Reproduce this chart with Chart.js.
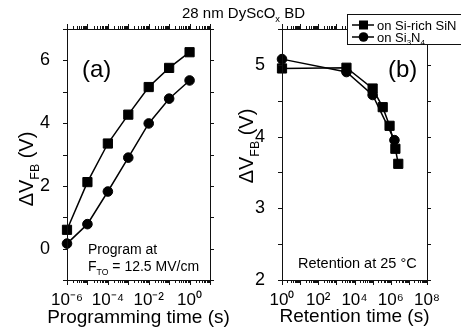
<!DOCTYPE html>
<html><head><meta charset="utf-8">
<script src="https://cdn.jsdelivr.net/npm/chart.js@4.4.1/dist/chart.umd.min.js"></script>
<style>
html,body{margin:0;padding:0;background:#fff;}
#wrap{position:relative;width:461px;height:331px;overflow:hidden;background:#fff;}
canvas{position:absolute;left:0;top:0;}
</style></head>
<body><div id="wrap"><canvas id="cA" width="461" height="331"></canvas><canvas id="cB" width="461" height="331"></canvas></div>
<script>
// ---- data ----
const progTime      = [1e-6, 1e-5, 1e-4, 1e-3, 1e-2, 1e-1, 1];
const progSiRich    = [0.60, 2.12, 3.35, 4.27, 5.15, 5.76, 6.26];
const progSi3N4     = [0.16, 0.78, 1.82, 2.90, 3.99, 4.78, 5.36];
const retTimeSiRich = [1, 3600, 1e5, 3.6e5, 8.6e5, 1.8e6, 2.6e6];
const retSiRich     = [4.95, 4.96, 4.67, 4.41, 4.15, 3.83, 3.62];
const retTimeSi3N4  = [1, 3600, 1e5, 1.6e6];
const retSi3N4      = [5.08, 4.90, 4.58, 3.95];
const seriesNames   = ['on Si-rich SiN', 'on Si3N4'];
const progXLabelExps = [-6, -4, -2, 0];
const retXLabelExps  = [0, 2, 4, 6, 8];
const progYLabels    = [0, 2, 4, 6];
const retYLabels     = [2, 3, 4, 5];

const FONT = '"Liberation Sans", Arial, Helvetica, sans-serif';
Chart.defaults.font.family = FONT;
Chart.defaults.color = '#000';
Chart.defaults.animation = false;

const SUP = {'-':'\u207B','0':'\u2070','1':'\u00B9','2':'\u00B2','3':'\u00B3','4':'\u2074','5':'\u2075','6':'\u2076','7':'\u2077','8':'\u2078','9':'\u2079'};
const pow10 = e => '10' + String(e).split('').map(c => SUP[c]).join('');
function expOf(v){ const e = Math.log10(v); const r = Math.round(e); return Math.abs(e - r) < 1e-6 ? r : null; }

function drawRich(ctx, parts, x, y, size, align){
  let w = 0;
  for (const p of parts){ ctx.font = (p.sub ? size*0.62 : size) + 'px ' + FONT; w += ctx.measureText(p.t).width; }
  let cx = align === 'center' ? x - w/2 : x;
  ctx.textAlign = 'left'; ctx.textBaseline = 'alphabetic';
  for (const p of parts){
    ctx.font = (p.sub ? size*0.62 : size) + 'px ' + FONT;
    ctx.fillText(p.t, cx, y + (p.sub ? size*0.28 : 0));
    cx += ctx.measureText(p.t).width;
  }
}

const framePlugin = {
  id: 'frame',
  afterDatasetsDraw(chart, args, o){
    const ctx = chart.ctx, a = chart.chartArea, xs = chart.scales.x, ys = chart.scales.y;
    ctx.save();
    ctx.strokeStyle = '#111'; ctx.lineWidth = 1;
    ctx.strokeRect(Math.round(a.left)+0.5, Math.round(a.top)+0.5, Math.round(a.right-a.left), Math.round(a.bottom-a.top));
    ctx.beginPath();
    for (let e = o.xMin; e <= o.xMax; e++){
      for (let k = 1; k <= 9; k++){
        if (e === o.xMax && k > 1) break;
        const v = k * Math.pow(10, e);
        const px = Math.round(xs.getPixelForValue(v)) + 0.5;
        const len = k === 1 ? 5 : 3;
        ctx.moveTo(px, a.bottom); ctx.lineTo(px, a.bottom + len);
        ctx.moveTo(px, a.top); ctx.lineTo(px, a.top - len);
      }
    }
    for (let v = o.yMin; v <= o.yMax + 1e-9; v += o.yStep){
      const py = Math.round(ys.getPixelForValue(v)) + 0.5;
      ctx.moveTo(a.left, py); ctx.lineTo(a.left - 4, py);
      ctx.moveTo(a.right, py); ctx.lineTo(a.right + 4, py);
    }
    ctx.stroke();
    ctx.restore();
  }
};

function ds(label, xs, ys, style, r){
  return { label, data: xs.map((t,i)=>({x:t, y:ys[i]})), pointStyle: style, pointRadius: r,
    borderColor:'#000', backgroundColor:'#000', pointBackgroundColor:'#000', pointBorderColor:'#000',
    pointBorderWidth:1, borderWidth:1.5, tension:0, clip:false };
}

function axisY(min, max, step, labels, width){
  return { min, max, grid:{display:false}, border:{display:false},
    ticks:{stepSize:step, padding:9, font:{size:18}, autoSkip:false,
      callback: v => labels.some(l => Math.abs(l - v) < 1e-9) ? String(v) : ''},
    afterFit: s => { s.width = width; } };
}
function axisX(min, max, labelExps){
  return { type:'logarithmic', min, max, grid:{display:false}, border:{display:false},
    ticks:{autoSkip:false, maxRotation:0, minRotation:0, padding:2, font:{size:17},
      callback: v => { const e = expOf(v); return (e !== null && labelExps.includes(e)) ? pow10(e) : ''; }},
    afterFit: s => { s.height = 51; } };
}

// ---- left panel (a) ----
new Chart(document.getElementById('cA'), {
  type:'line',
  data:{ datasets:[ ds(seriesNames[0], progTime, progSiRich, 'rect', 6.5), ds(seriesNames[1], progTime, progSi3N4, 'circle', 4.8) ] },
  options:{ responsive:false, animation:false,
    layout:{padding:{left:0, top:29, right:251, bottom:0}},
    plugins:{ legend:{display:false}, tooltip:{enabled:false},
      frame:{xMin:-6, xMax:1, yMin:-1, yMax:7, yStep:1} },
    scales:{ x: axisX(1e-6, 10, progXLabelExps), y: axisY(-1, 7, 1, progYLabels, 67) } },
  plugins:[framePlugin, {
    id:'annA',
    afterDraw(chart){
      const ctx = chart.ctx; ctx.save(); ctx.fillStyle = '#000';
      drawRich(ctx, [{t:'(a)'}], 82, 77, 24, 'left');
      drawRich(ctx, [{t:'Program at'}], 88, 254, 14, 'left');
      drawRich(ctx, [{t:'F'},{t:'TO',sub:true},{t:' = 12.5 MV/cm'}], 88, 271, 14, 'left');
      drawRich(ctx, [{t:'Programming time (s)'}], 138.5, 323, 19, 'center');
      ctx.translate(33, 169); ctx.rotate(-Math.PI/2);
      drawRich(ctx, [{t:'\u0394V'},{t:'FB',sub:true},{t:' (V)'}], 0, 0, 20, 'center');
      ctx.restore();
    }
  }]
});

// ---- right panel (b) ----
new Chart(document.getElementById('cB'), {
  type:'line',
  data:{ datasets:[ ds(seriesNames[0], retTimeSiRich, retSiRich, 'rect', 6.5), ds(seriesNames[1], retTimeSi3N4, retSi3N4, 'circle', 4.8) ] },
  options:{ responsive:false, animation:false,
    layout:{padding:{left:230, top:29, right:34, bottom:0}},
    plugins:{ legend:{display:false}, tooltip:{enabled:false},
      frame:{xMin:0, xMax:8, yMin:2, yMax:5.5, yStep:0.5} },
    scales:{ x: axisX(1, 1e8, retXLabelExps), y: axisY(2, 5.5, 0.5, retYLabels, 52) } },
  plugins:[framePlugin, {
    id:'annB',
    afterDraw(chart){
      const ctx = chart.ctx; ctx.save(); ctx.fillStyle = '#000';
      drawRich(ctx, [{t:'(b)'}], 388, 77, 24, 'left');
      drawRich(ctx, [{t:'Retention at 25 \u00B0C'}], 298, 268, 14.5, 'left');
      drawRich(ctx, [{t:'Retention time (s)'}], 354.5, 322, 19, 'center');
      drawRich(ctx, [{t:'28 nm DyScO'},{t:'x',sub:true},{t:' BD'}], 182, 18, 15, 'left');
      ctx.save(); ctx.translate(253, 146); ctx.rotate(-Math.PI/2);
      drawRich(ctx, [{t:'\u0394V'},{t:'FB',sub:true},{t:' (V)'}], 0, 0, 20, 'center');
      ctx.restore();
      // legend box
      ctx.fillStyle = '#fff'; ctx.fillRect(347.5, 14.5, 130, 30);
      ctx.strokeStyle = '#111'; ctx.lineWidth = 1; ctx.strokeRect(347.5, 14.5, 130, 30);
      const rows = [25, 37];
      chart.data.datasets.forEach((d, i) => {
        const y = rows[i];
        ctx.strokeStyle = '#000'; ctx.lineWidth = 1.5;
        ctx.beginPath(); ctx.moveTo(352, y); ctx.lineTo(374, y); ctx.stroke();
        ctx.fillStyle = '#000';
        if (d.pointStyle === 'rect'){ ctx.fillRect(359, y-4.5, 9, 9); }
        else { ctx.beginPath(); ctx.arc(363.5, y, 4.8, 0, Math.PI*2); ctx.fill(); }
        const parts = d.label === 'on Si3N4' ? [{t:'on Si'},{t:'3',sub:true},{t:'N'},{t:'4',sub:true}] : [{t:d.label}];
        drawRich(ctx, parts, 377, y + 4.5, 13, 'left');
      });
      ctx.restore();
    }
  }]
});
</script></body></html>
